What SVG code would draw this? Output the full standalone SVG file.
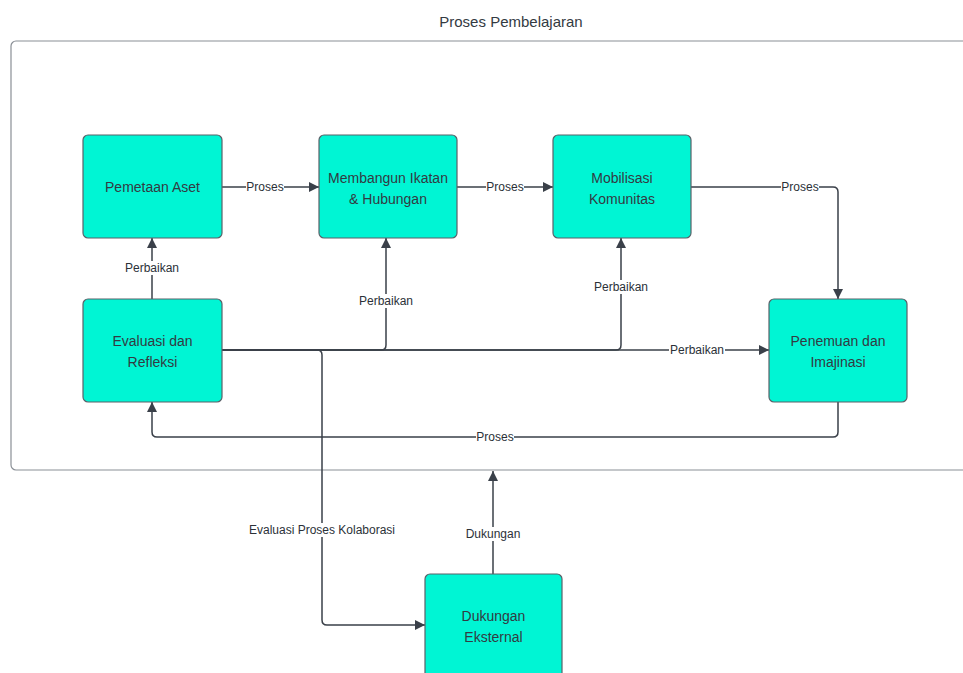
<svg xmlns="http://www.w3.org/2000/svg" width="963" height="673" viewBox="0 0 963 673">
<style>
.node{fill:#00F5D4;stroke:#5a6068;stroke-width:1.2}
.nt{font-family:"Liberation Sans",Arial,sans-serif;font-size:14px;fill:#333a42;text-anchor:middle}
.lt{font-family:"Liberation Sans",Arial,sans-serif;font-size:12px;fill:#2b3138;text-anchor:middle}
.lb{fill:#ffffff}
.c{fill:none;stroke:#3a4049;stroke-width:1.5}
</style>
<defs>
<marker id="ah" viewBox="0 0 10 10" refX="10" refY="5" markerWidth="10" markerHeight="10" markerUnits="userSpaceOnUse" orient="auto">
<path d="M0,0 L10,5 L0,10 Z" fill="#3a4049"/>
</marker>
</defs>
<rect width="963" height="673" fill="#ffffff"/>
<text x="511" y="27" font-family="Liberation Sans,Arial,sans-serif" font-size="15" fill="#333a42" text-anchor="middle">Proses Pembelajaran</text>
<rect id="container" x="11" y="41" width="962" height="429" rx="5" fill="none" stroke="#8a8f96" stroke-width="1.2"/>

<g id="connectors">
<path class="c" d="M222,187 H319" marker-end="url(#ah)"/>
<path class="c" d="M457,187 H553" marker-end="url(#ah)"/>
<path class="c" d="M691,187 H833 Q838,187 838,192 V299" marker-end="url(#ah)"/>
<path class="c" d="M152,299 V238" marker-end="url(#ah)"/>
<path class="c" d="M222,350 H381 Q386,350 386,345 V238" marker-end="url(#ah)"/>
<path class="c" d="M222,350 H616 Q621,350 621,345 V238" marker-end="url(#ah)"/>
<path class="c" d="M222,350 H769" marker-end="url(#ah)"/>
<path class="c" d="M838,402 V432 Q838,437 833,437 H157 Q152,437 152,432 V402" marker-end="url(#ah)"/>
<path class="c" d="M222,350 H317 Q322,350 322,355 V620 Q322,625 327,625 H425" marker-end="url(#ah)"/>
<path class="c" d="M493,574 V471" marker-end="url(#ah)"/>

<rect class="lb" x="246" y="180" width="38" height="14"/><text class="lt" x="265" y="191">Proses</text>
<rect class="lb" x="486" y="180" width="38" height="14"/><text class="lt" x="505" y="191">Proses</text>
<rect class="lb" x="781" y="180" width="38" height="14"/><text class="lt" x="800" y="191">Proses</text>
<rect class="lb" x="124" y="261" width="56" height="14"/><text class="lt" x="152" y="272">Perbaikan</text>
<rect class="lb" x="358" y="294" width="56" height="14"/><text class="lt" x="386" y="305">Perbaikan</text>
<rect class="lb" x="593" y="280" width="56" height="14"/><text class="lt" x="621" y="291">Perbaikan</text>
<rect class="lb" x="669" y="343" width="56" height="14"/><text class="lt" x="697" y="354">Perbaikan</text>
<rect class="lb" x="476" y="430" width="38" height="14"/><text class="lt" x="495" y="441">Proses</text>
<rect class="lb" x="248" y="523" width="148" height="14"/><text class="lt" x="322" y="534">Evaluasi Proses Kolaborasi</text>
<rect class="lb" x="466" y="527" width="54" height="14"/><text class="lt" x="493" y="538">Dukungan</text>
</g>

<g id="pemetaan">
<rect class="node" x="83" y="135" width="139" height="103" rx="5"/>
<text class="nt" x="152.5" y="192">Pemetaan Aset</text>
</g>
<g id="membangun">
<rect class="node" x="319" y="135" width="138" height="103" rx="5"/>
<text class="nt" x="388" y="183">Membangun Ikatan</text>
<text class="nt" x="388" y="204">&amp; Hubungan</text>
</g>
<g id="mobilisasi">
<rect class="node" x="553" y="135" width="138" height="103" rx="5"/>
<text class="nt" x="622" y="183">Mobilisasi</text>
<text class="nt" x="622" y="204">Komunitas</text>
</g>
<g id="evaluasi">
<rect class="node" x="83" y="299" width="139" height="103" rx="5"/>
<text class="nt" x="152.5" y="346">Evaluasi dan</text>
<text class="nt" x="152.5" y="367">Refleksi</text>
</g>
<g id="penemuan">
<rect class="node" x="769" y="299" width="138" height="103" rx="5"/>
<text class="nt" x="838" y="346">Penemuan dan</text>
<text class="nt" x="838" y="367">Imajinasi</text>
</g>
<g id="dukungan">
<rect class="node" x="425" y="574" width="137" height="110" rx="5"/>
<text class="nt" x="493.5" y="621">Dukungan</text>
<text class="nt" x="493.5" y="642">Eksternal</text>
</g>
</svg>
